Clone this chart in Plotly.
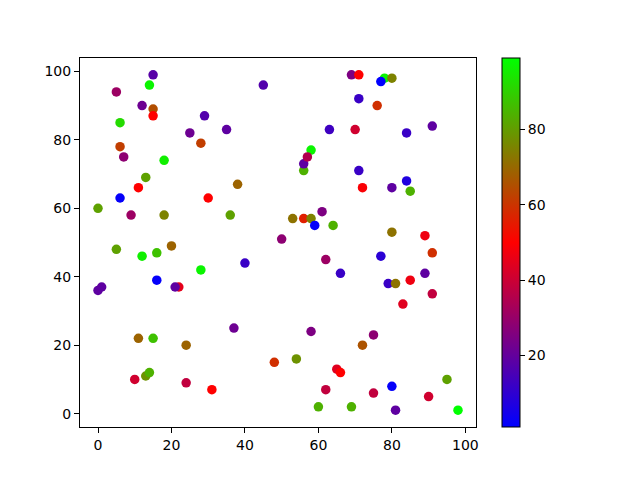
import plotly.graph_objects as go

# values
x = [15, 14, 5, 45, 12, 15, 15, 6, 29, 25, 35, 28, 6, 7, 18, 13, 11, 38, 6, 30,
     0, 9, 18, 36, 69, 71, 78, 80, 77, 71, 76, 63, 70, 84, 91, 58, 56, 56, 57, 71,
     72, 80, 84, 85, 53, 56, 58, 61, 59, 64, 80, 89, 50, 5, 12, 16, 20, 40, 28, 16,
     0, 1, 22, 21, 37, 11, 15, 24, 48, 13, 14, 10, 24, 31, 62, 77, 91, 66, 79, 81,
     85, 89, 91, 83, 58, 75, 72, 54, 65, 66, 95, 80, 62, 75, 90, 60, 69, 81, 98]
y = [99, 96, 94, 96, 90, 89, 87, 85, 87, 82, 83, 79, 78, 75, 74, 69, 66, 67, 63, 63,
     60, 58, 58, 58, 99, 99, 98, 98, 97, 92, 90, 83, 83, 82, 84, 77, 71, 73, 75, 71,
     66, 66, 68, 65, 57, 57, 57, 59, 55, 55, 53, 52, 51, 48, 46, 47, 49, 44, 42, 39,
     36, 37, 37, 37, 25, 22, 22, 20, 15, 11, 12, 10, 9, 7, 45, 46, 47, 41, 38, 38,
     39, 41, 35, 32, 24, 23, 20, 16, 13, 12, 10, 8, 7, 6, 5, 2, 2, 1, 1]
c = [18, 97, 31, 17, 22, 65, 50, 92, 17, 22, 19, 62, 62, 28, 96, 81, 50, 69, 2, 50,
     81, 31, 75, 81, 25, 50, 97, 75, 1, 12, 59, 13, 41, 12, 19, 97, 84, 19, 35, 12,
     49, 19, 7, 84, 72, 56, 75, 25, 2, 84, 72, 47, 28, 81, 96, 87, 69, 12, 97, 2,
     19, 19, 45, 19, 22, 69, 87, 69, 59, 78, 84, 41, 38, 50, 31, 9, 59, 12, 12, 72,
     47, 19, 38, 44, 25, 28, 66, 78, 44, 50, 81, 2, 38, 38, 41, 84, 84, 19, 99]

brg = [[0.0, "rgb(0,0,255)"], [0.5, "rgb(255,0,0)"], [1.0, "rgb(0,255,0)"]]

fig = go.Figure(go.Scatter(
    x=x, y=y, mode="markers",
    marker=dict(
        size=9.5, color=c, colorscale=brg,
        line=dict(width=0),
        colorbar=dict(
            x=1.066, xanchor="left", xpad=0, y=0.5, len=1, ypad=0,
            thickness=18, outlinewidth=1, outlinecolor="black",
            ticks="outside", ticklen=5, tickcolor="black",
            dtick=20, tick0=0,
            tickfont=dict(family="DejaVu Sans", size=14, color="black"),
        ),
    ),
    hoverinfo="x+y",
))

axis = dict(
    showgrid=False, zeroline=False, showline=True, mirror=True,
    linecolor="black", linewidth=1, ticks="outside", ticklen=5,
    tickcolor="black", dtick=20, tick0=0,
    tickfont=dict(family="DejaVu Sans", size=14, color="black"),
)
# the page body adds an 8px offset, so margins are shifted by that much
fig.update_layout(
    width=640, height=480,
    margin=dict(l=72, r=172, t=50, b=61),
    plot_bgcolor="white", paper_bgcolor="white",
    xaxis=dict(axis, range=[-4.9, 102.9]),
    yaxis=dict(axis, range=[-3.9, 103.9]),
    showlegend=False,
)

fig.write_html("out.html")
